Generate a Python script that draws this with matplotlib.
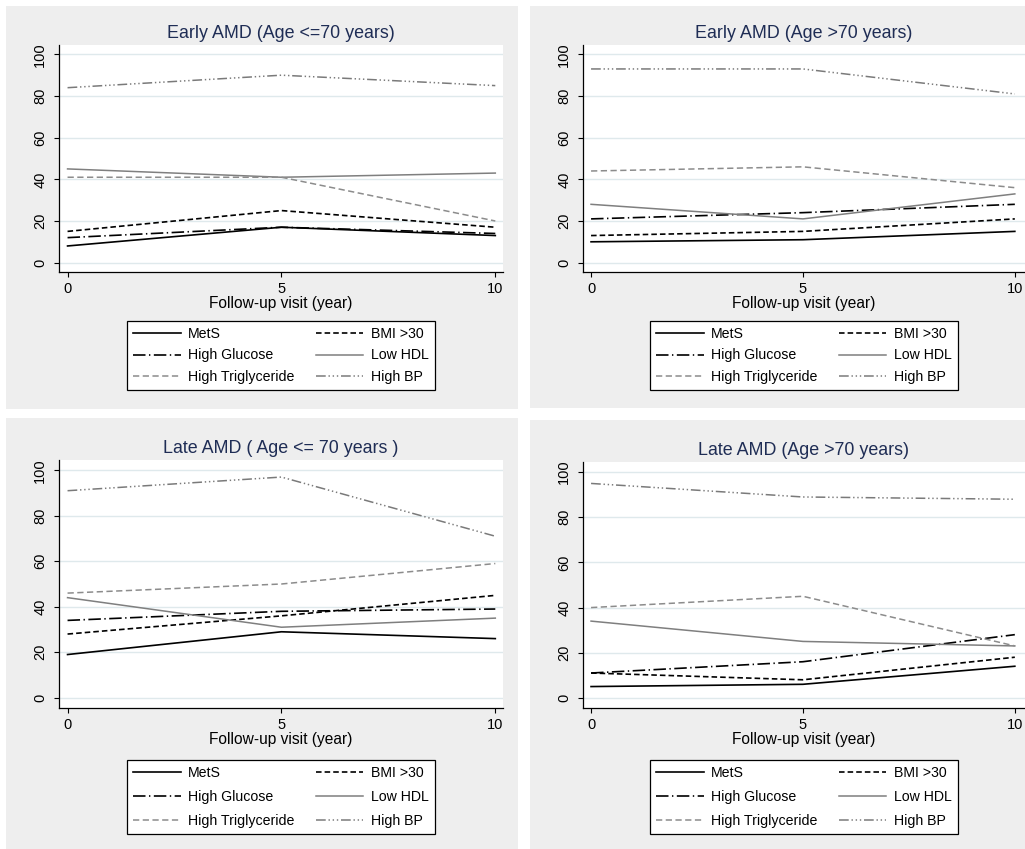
import numpy as np
import matplotlib.pyplot as plt
from matplotlib.patches import Rectangle

plt.rcParams['font.family'] = ['Liberation Sans', 'DejaVu Sans']
plt.rcParams['lines.scale_dashes'] = False

W, H = 1025, 849

# Data (percent), rows follow series order
years = [0, 5, 10]
series = ["MetS", "BMI >30", "High Glucose", "Low HDL", "High Triglyceride", "High BP"]
titles = ["Early AMD (Age <=70 years)", "Early AMD (Age >70 years)",
          "Late AMD ( Age <= 70 years )", "Late AMD (Age >70 years)"]

early_le70 = [
    [8, 17, 13],
    [15, 25, 17],
    [12, 17, 14],
    [45, 41, 43],
    [41, 41, 20],
    [84, 90, 85],
]
early_gt70 = [
    [10, 11, 15],
    [13, 15, 21],
    [21, 24, 28],
    [28, 21, 33],
    [44, 46, 36],
    [93, 93, 81],
]
late_le70 = [
    [19, 29, 26],
    [28, 36, 45],
    [34, 38, 39],
    [44, 31, 35],
    [46, 50, 59],
    [91, 97, 71],
]
late_gt70 = [
    [5, 6, 14],
    [11, 8, 18],
    [11, 16, 28],
    [34, 25, 23],
    [40, 45, 23],
    [95, 89, 88],
]

styles = [
    dict(color="black", lw=1.2, ls="-"),
    dict(color="black", lw=1.2, ls=(0, (4, 2.2))),
    dict(color="black", lw=1.2, ls=(0, (9, 2.5, 1, 2.5))),
    dict(color="#7f7f7f", lw=1.1, ls="-"),
    dict(color="#8c8c8c", lw=1.1, ls=(0, (4.5, 2.5))),
    dict(color="#7a7a7a", lw=1.1, ls=(0, (7, 2, 1, 2, 1, 2, 1, 2))),
]

# layout in pixels: background box, axes box (x0, y0, x1, y1 from top), legend top, label spacing
panels = [
    (early_le70, titles[0], (6, 6, 518, 409), (59, 45, 503, 272), 321, 0.5, (-0.2, 10.18)),
    (early_gt70, titles[1], (530, 6, 1025, 408), (583, 45, 1025, 272), 321, 0.5, (-0.19, 10.24)),
    (late_le70, titles[2], (6, 418, 518, 849), (59, 460, 503, 708), 760, 0.68, (-0.2, 10.18)),
    (late_gt70, titles[3], (530, 420, 1025, 849), (583, 462, 1025, 708), 760, 0.68, (-0.19, 10.24)),
]

fig = plt.figure(figsize=(W / 100, H / 100), dpi=100)
fig.patch.set_facecolor("white")

for data, title, bg, box, leg_top, lsp, xlim in panels:
    fig.patches.append(Rectangle((bg[0] / W, 1 - bg[3] / H), (bg[2] - bg[0]) / W, (bg[3] - bg[1]) / H,
                                 transform=fig.transFigure, facecolor="#eeeeee", edgecolor="none", zorder=-1))
    ax = fig.add_axes([box[0] / W, 1 - box[3] / H, (box[2] - box[0]) / W, (box[3] - box[1]) / H])
    ax.set_facecolor("white")

    lines = []
    for vals, name, st in zip(data, series, styles):
        ln, = ax.plot(years, vals, label=name, color=st["color"], lw=st["lw"], linestyle=st["ls"])
        lines.append(ln)

    ax.set_xlim(*xlim)
    ax.set_ylim(-4.5, 104.5)
    ax.set_xticks([0, 5, 10])
    ax.set_yticks([0, 20, 40, 60, 80, 100])
    ax.grid(axis="y", color="#dfe9ec", lw=1.0)
    ax.set_axisbelow(True)
    for s in ["top", "right"]:
        ax.spines[s].set_visible(False)
    for s in ["left", "bottom"]:
        ax.spines[s].set_linewidth(0.9)
    ax.tick_params(axis="both", labelsize=10.5, length=3.5, width=0.8)
    ax.tick_params(axis="x", pad=4)
    ax.tick_params(axis="y", pad=5)
    plt.setp(ax.get_yticklabels(), rotation=90, va="center")

    ax.set_title(title, fontsize=12.9, color="#1f2d55", pad=5)
    ax.set_xlabel("Follow-up visit (year)", fontsize=11.2, labelpad=0)

    order = [0, 2, 4, 1, 3, 5]
    cx = (box[0] + box[2]) / 2
    leg = ax.legend([lines[i] for i in order], [series[i] for i in order],
                    loc="upper center", bbox_to_anchor=(cx / W, 1 - leg_top / H),
                    bbox_transform=fig.transFigure, ncol=2, fontsize=10.2,
                    frameon=True, fancybox=False, framealpha=1, edgecolor="black",
                    handlelength=3.35, handletextpad=0.55, columnspacing=1.5,
                    borderpad=0.45, labelspacing=lsp, borderaxespad=0)
    leg.get_frame().set_linewidth(0.9)

plt.savefig("out.png", dpi=100, facecolor="white")
